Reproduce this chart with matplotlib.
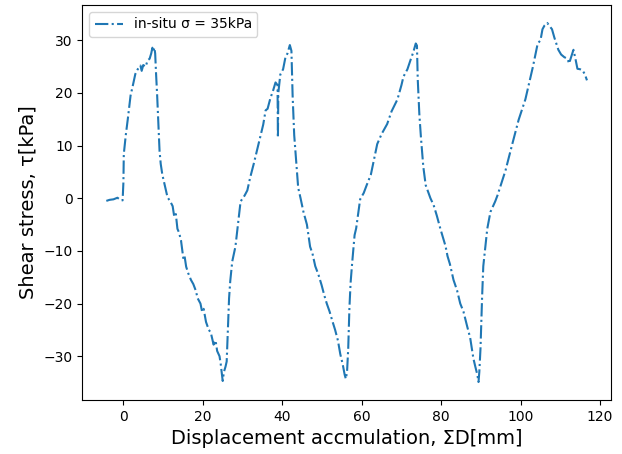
import numpy as np
import matplotlib
matplotlib.use("Agg")
import matplotlib.pyplot as plt

# displacement accumulation [mm] and shear stress [kPa]
disp = [-4.3, -3.5, -2.5, -1.5, -0.8, -0.2, 0.0, 0.1, 0.6, 1.1, 1.8, 2.4, 3.0, 3.6,
        4.3, 4.6, 5.0, 5.6, 6.1, 6.6, 7.0, 7.3, 7.6, 7.8, 8.0, 8.2, 8.5, 8.8, 9.1,
        9.4, 9.8, 10.4, 11.1, 11.8, 12.4, 12.8, 13.2, 13.6, 14.0, 14.5, 15.1, 15.4,
        15.8, 16.3, 17.0, 17.6, 18.2, 18.7, 19.4, 19.8, 20.2, 20.8, 21.5, 22.0,
        22.7, 23.2, 23.6, 24.2, 24.5, 24.8, 25.0, 25.3, 25.7, 26.0, 26.3, 26.6,
        26.9, 27.4, 28.2, 29.5, 30.5, 31.2, 31.9, 32.8, 33.6, 34.5, 35.2, 35.8,
        36.3, 37.0, 37.7, 38.3, 38.8, 38.9, 39.0, 39.5, 40.2, 40.8, 41.3, 41.9,
        42.3, 42.6, 43.0, 43.4, 44.0, 44.6, 45.3, 46.2, 47.0, 47.6, 48.3, 49.1,
        49.9, 50.6, 51.2, 51.9, 52.6, 53.3, 54.0, 54.6, 55.2, 55.7, 56.0, 56.3,
        56.6, 56.9, 57.2, 57.6, 58.2, 58.6, 59.6, 60.5, 61.3, 62.3, 63.9, 65.0,
        66.4, 67.5, 69.0, 70.0, 70.5, 71.5, 72.3, 73.0, 73.6, 73.9, 74.1, 74.5,
        74.9, 75.5, 76.1, 77.3, 78.1, 78.9, 79.8, 81.1, 81.6, 82.2, 83.1, 84.0,
        84.8, 85.6, 86.6, 87.3, 88.1, 88.6, 89.1, 89.4, 89.6, 89.9, 90.3, 90.6,
        91.3, 91.6, 92.4, 93.6, 94.2, 95.6, 96.2, 97.9, 99.5, 100.2, 101.2, 102.5,
        103.1, 104.3, 105.0, 105.5, 106.0, 106.7, 107.2, 107.9, 108.5, 109.5,
        110.2, 111.0, 111.8, 112.2, 113.3, 113.8, 114.3, 115.0, 115.6, 116.2, 116.7]

tau = [-0.5, -0.3, -0.2, 0.1, -0.3, -0.4, 3.0, 8.4, 12.0, 15.0, 19.5, 21.5, 23.6, 24.5,
       25.2, 24.2, 25.3, 25.0, 26.2, 26.5, 27.5, 28.6, 28.0, 28.6, 27.5, 24.0, 19.5,
       14.0, 9.0, 6.5, 4.5, 2.5, 0.2, -0.6, -1.5, -3.5, -3.0, -5.8, -6.5, -8.0,
       -11.5, -11.0, -13.0, -14.2, -15.5, -16.3, -17.5, -19.0, -20.0, -21.5, -21.0,
       -23.5, -25.0, -25.5, -27.8, -27.0, -29.0, -30.0, -31.5, -33.5, -34.7, -33.0,
       -32.0, -31.0, -25.0, -19.0, -15.7, -12.0, -9.2, -0.6, 0.5, 1.5, 3.9, 6.5,
       9.0, 11.8, 14.0, 16.7, 17.0, 19.0, 20.5, 22.0, 21.5, 11.5, 20.0, 23.5, 24.5,
       26.8, 27.5, 29.1, 28.0, 19.5, 12.0, 7.9, 2.0, 0.0, -2.5, -5.0, -9.2, -10.5,
       -12.9, -14.5, -16.5, -18.5, -20.0, -21.5, -23.3, -25.0, -27.0, -29.6, -31.5,
       -33.5, -34.3, -33.0, -28.5, -20.8, -16.0, -12.2, -7.0, -5.7, -0.2, 1.0, 2.6,
       4.5, 10.3, 12.2, 14.1, 16.5, 18.8, 21.5, 23.1, 24.5, 26.3, 27.8, 29.4, 29.0,
       22.6, 16.0, 11.6, 6.0, 2.5, 0.0, -1.3, -3.3, -5.8, -9.1, -11.0, -12.5, -15.5,
       -17.5, -20.0, -21.5, -24.5, -26.5, -30.4, -32.0, -33.5, -34.9, -33.0, -28.5,
       -18.8, -12.9, -8.0, -5.8, -2.6, -0.6, 0.6, 3.9, 5.3, 10.3, 14.9, 16.5, 18.8,
       23.1, 25.0, 29.4, 30.0, 32.1, 32.8, 33.3, 32.8, 32.1, 30.5, 28.2, 27.3, 26.8,
       26.5, 25.6, 28.2, 26.5, 24.6, 24.5, 24.3, 23.5, 22.4]

fig = plt.figure(figsize=(6.22, 4.54), dpi=100)
ax = fig.add_axes([0.1323, 0.119, 0.85, 0.87])
ax.plot(disp, tau, '-.', label='in-situ σ = 35kPa')
ax.set_xlabel('Displacement accmulation, ΣD[mm]', fontsize=14)
ax.set_ylabel('Shear stress, τ[kPa]', fontsize=14)
ax.set_xticks(np.arange(0, 121, 20))
ax.legend(loc='upper left')
fig.savefig('out.png', dpi=100)
